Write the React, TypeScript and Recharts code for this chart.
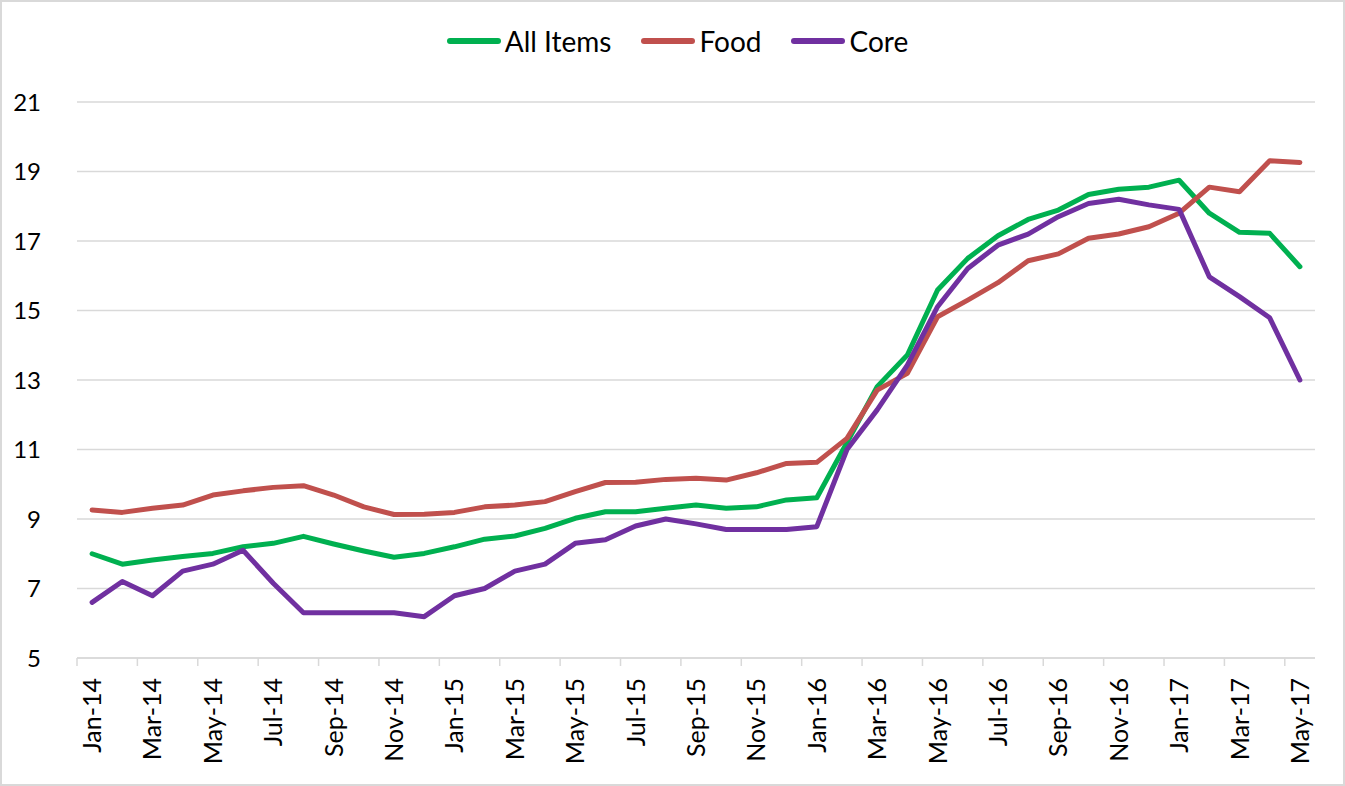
import React from 'react';
import { LineChart, Line, XAxis, YAxis, CartesianGrid, Legend } from 'recharts';

const months = [
  'Jan-14', 'Feb-14', 'Mar-14', 'Apr-14', 'May-14', 'Jun-14', 'Jul-14', 'Aug-14', 'Sep-14', 'Oct-14', 'Nov-14', 'Dec-14',
  'Jan-15', 'Feb-15', 'Mar-15', 'Apr-15', 'May-15', 'Jun-15', 'Jul-15', 'Aug-15', 'Sep-15', 'Oct-15', 'Nov-15', 'Dec-15',
  'Jan-16', 'Feb-16', 'Mar-16', 'Apr-16', 'May-16', 'Jun-16', 'Jul-16', 'Aug-16', 'Sep-16', 'Oct-16', 'Nov-16', 'Dec-16',
  'Jan-17', 'Feb-17', 'Mar-17', 'Apr-17', 'May-17',
];

const allItems = [
  8.0, 7.7, 7.82, 7.92, 8.01, 8.2, 8.3, 8.5, 8.28, 8.08, 7.9, 8.01,
  8.2, 8.42, 8.51, 8.73, 9.02, 9.21, 9.21, 9.31, 9.4, 9.31, 9.35, 9.55,
  9.61, 11.2, 12.81, 13.72, 15.59, 16.5, 17.15, 17.62, 17.89, 18.34, 18.49, 18.55,
  18.75, 17.8, 17.25, 17.22, 16.26,
];

const food = [
  9.26, 9.19, 9.31, 9.4, 9.69, 9.81, 9.91, 9.96, 9.69, 9.35, 9.13, 9.14,
  9.19, 9.35, 9.4, 9.5, 9.79, 10.05, 10.06, 10.14, 10.17, 10.12, 10.33, 10.6,
  10.63, 11.32, 12.71, 13.19, 14.82, 15.3, 15.8, 16.43, 16.63, 17.08, 17.2, 17.41,
  17.8, 18.55, 18.42, 19.31, 19.26,
];

const core = [
  6.6, 7.2, 6.79, 7.5, 7.7, 8.1, 7.15, 6.3, 6.3, 6.3, 6.3, 6.19,
  6.79, 7.0, 7.5, 7.7, 8.3, 8.4, 8.8, 9.0, 8.86, 8.7, 8.7, 8.7,
  8.78, 11.0, 12.14, 13.43, 15.11, 16.21, 16.88, 17.2, 17.7, 18.08, 18.2, 18.04,
  17.91, 15.97, 15.4, 14.79, 13.0,
];

const yTicks = [5, 7, 9, 11, 13, 15, 17, 19, 21];

const series = [
  { key: 'allItems', name: 'All Items', color: '#00B050' },
  { key: 'food', name: 'Food', color: '#C0504D' },
  { key: 'core', name: 'Core', color: '#7030A0' },
];

const data = months.map((m, i) => ({ month: m, allItems: allItems[i], food: food[i], core: core[i] }));

const FONT = 'Lato, "Open Sans", sans-serif';
const W = 1345;
const H = 786;
const HALF_BAND = 15.1;

// rotated month label plus a tick mark on the boundary left of the category
function MonthTick({ x, y, payload }: any) {
  return (
    <g>
      <line x1={x - HALF_BAND} x2={x - HALF_BAND} y1={y} y2={y + 8} stroke="#d9d9d9" strokeWidth={1.5} />
      <text
        x={x}
        y={y + 20}
        transform={`rotate(-90, ${x}, ${y + 20})`}
        textAnchor="end"
        dy="0.36em"
        fontSize={25}
        fontFamily={FONT}
        fill="#000"
      >
        {payload.value}
      </text>
    </g>
  );
}

function LegendContent() {
  return (
    <div style={{ display: 'flex', justifyContent: 'center', alignItems: 'center', gap: 30, fontFamily: FONT, fontSize: 28, color: '#000', paddingLeft: 10 }}>
      {series.map(s => (
        <div key={s.key} style={{ display: 'flex', alignItems: 'center' }}>
          <span style={{ display: 'inline-block', width: 54, height: 6, borderRadius: 3, background: s.color, marginRight: 4 }} />
          <span>{s.name}</span>
        </div>
      ))}
    </div>
  );
}

export default function App() {
  return (
    <div style={{ position: 'absolute', left: 0, top: 0, width: W, height: H, background: '#fff' }}>
      <LineChart width={W} height={H} data={data} margin={{ top: 102, right: 30, left: 17, bottom: 28 }}>
        <CartesianGrid stroke="#d9d9d9" strokeWidth={1.5} vertical={false} />
        <XAxis
          dataKey="month"
          interval={1}
          padding={{ left: HALF_BAND, right: HALF_BAND }}
          axisLine={{ stroke: '#d9d9d9', strokeWidth: 1.5 }}
          tickLine={false}
          tickSize={0}
          tickMargin={0}
          height={100}
          tick={<MonthTick />}
        />
        <YAxis
          domain={[5, 21]}
          ticks={yTicks}
          interval={0}
          width={60}
          axisLine={false}
          tickLine={false}
          tickMargin={30}
          tick={{ fontSize: 24, fontFamily: FONT, fill: '#000' }}
        />
        <Legend verticalAlign="middle" align="center" content={<LegendContent />} wrapperStyle={{ top: 24, left: 0, width: W }} />
        {series.map(s => (
          <Line
            key={s.key}
            type="linear"
            dataKey={s.key}
            name={s.name}
            stroke={s.color}
            strokeWidth={5}
            strokeLinecap="round"
            strokeLinejoin="round"
            dot={false}
            activeDot={false}
            isAnimationActive={false}
          />
        ))}
      </LineChart>
      <div style={{ position: 'absolute', left: 0, top: 0, width: W, height: H, border: '2px solid #d9d9d9', boxSizing: 'border-box', pointerEvents: 'none' }} />
    </div>
  );
}
